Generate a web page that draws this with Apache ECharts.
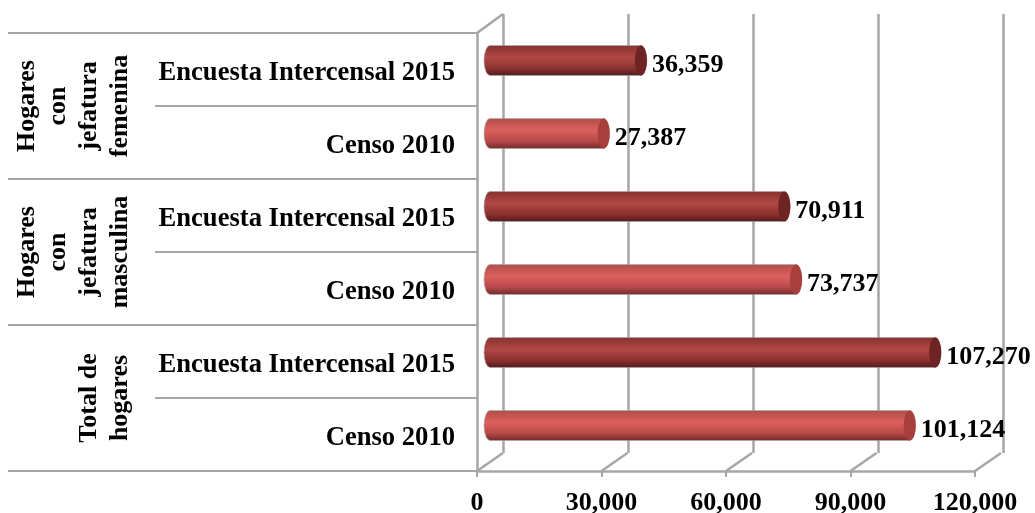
<!DOCTYPE html>
<html>
<head>
<meta charset="utf-8">
<script src="https://cdn.jsdelivr.net/npm/echarts@6/dist/echarts.min.js"></script>
<style>
html,body{margin:0;padding:0;background:#fff}
#main{width:1035px;height:513px}
</style>
</head>
<body>
<div id="main"></div>
<script>
var categorias = ['Censo 2010','Encuesta Intercensal 2015','Censo 2010','Encuesta Intercensal 2015','Censo 2010','Encuesta Intercensal 2015'];
var grupos = ['Total de\nhogares','Hogares\ncon\njefatura\nmasculina','Hogares\ncon\njefatura\nfemenina'];
var valores = [101124,107270,73737,70911,27387,36359];
var ticks = [0,30000,60000,90000,120000];

var FONT = '"Liberation Serif","Times New Roman",serif';
var GRIS = '#a6a6a6';
var fmt = function(v){ return v.toLocaleString('en-US'); };

// degradados del cilindro: claro para censo, oscuro para encuesta
function cuerpo(i){
	var stops = i % 2 === 0
		? [[0,'#b04d4a'],[0.4,'#dc605c'],[0.75,'#b8494a'],[1,'#6e2a28']]
		: [[0,'#86302e'],[0.4,'#b04845'],[0.75,'#8c3230'],[1,'#4f1a19']];
	return new echarts.graphic.LinearGradient(0,0,0,1,stops.map(function(s){return {offset:s[0],color:s[1]};}));
}

function drawBarra(params, api){
	var i = params.dataIndex;
	var fin = api.coord([api.value(0), api.value(1)]);
	var ini = api.coord([0, api.value(1)]);
	var alto = api.size([0,1])[1] * 0.41;
	var rx = 6, top = fin[1]-alto/2, izq = ini[0]-rx;
	var d = 'M'+izq+' '+(top+alto/2)
		+'A'+rx+' '+(alto/2)+' 0 0 1 '+(izq+rx)+' '+top
		+'L'+fin[0]+' '+top
		+'A'+rx+' '+(alto/2)+' 0 0 1 '+fin[0]+' '+(top+alto)
		+'L'+(izq+rx)+' '+(top+alto)
		+'A'+rx+' '+(alto/2)+' 0 0 1 '+izq+' '+(top+alto/2)+'Z';
	return {type:'group',children:[
		{type:'path',shape:{pathData:d},style:{fill:cuerpo(i),stroke:'rgba(170,170,170,0.6)',lineWidth:1}},
		{type:'ellipse',shape:{cx:fin[0],cy:fin[1],rx:rx,ry:alto/2},style:{fill:i%2===0?'#a83f3c':'#6e2422'}},
		{type:'text',x:fin[0]+6+rx-1,y:fin[1]+5,style:{text:fmt(api.value(0)),font:'bold 26px '+FONT,fill:'#000',textAlign:'left',textVerticalAlign:'middle'}}
	]};
}

// diagonales del piso y de la esquina superior
function drawDiagonal(params, api){
	var cs = params.coordSys;
	var p = api.coord([api.value(0),0]);
	var y0 = cs.y+cs.height;
	var lineas = [{type:'line',shape:{x1:p[0],y1:y0,x2:p[0]+26,y2:y0-18},style:{stroke:GRIS,lineWidth:2.5}}];
	if(api.value(0)===0){
		lineas.push({type:'line',shape:{x1:p[0],y1:cs.y,x2:p[0]+26,y2:cs.y-19},style:{stroke:GRIS,lineWidth:2.5}});
	}
	return {type:'group',children:lineas};
}

var chart = echarts.init(document.querySelector('#main'));
var option = {
	animation:false,
	backgroundColor:'#fff',
	textStyle:{fontFamily:FONT},
	grid:[
		{left:477,top:33,width:498,height:438,outerBoundsMode:'none'},
		{left:503,top:14,width:500,height:439,outerBoundsMode:'none'},
		{left:490,top:24,width:498,height:438,outerBoundsMode:'none'},
		{left:8,top:33,width:469,height:438,outerBoundsMode:'none'},
		// solo para las etiquetas de categoria, un poco mas abajo que las marcas
		{left:477,top:36.5,width:498,height:438,outerBoundsMode:'none'}
	],
	xAxis:[
		{gridIndex:0,type:'value',min:0,max:120000,interval:30000,
			axisLine:{show:true,lineStyle:{color:GRIS,width:2.5}},
			axisTick:{show:true,length:6,lineStyle:{color:GRIS,width:2}},
			splitLine:{show:false},
			axisLabel:{margin:19,fontFamily:FONT,fontWeight:'bold',fontSize:26,color:'#000',formatter:fmt}},
		{gridIndex:1,type:'value',min:0,max:120000,interval:30000,
			axisLine:{show:false},axisTick:{show:false},axisLabel:{show:false},
			splitLine:{show:true,lineStyle:{color:GRIS,width:2.5}}},
		{gridIndex:2,type:'value',min:0,max:120000,show:false,splitLine:{show:false}},
		{gridIndex:3,type:'value',show:false,splitLine:{show:false}},
		{gridIndex:4,type:'value',show:false,splitLine:{show:false}}
	],
	yAxis:[
		{gridIndex:0,type:'category',data:categorias,
			axisLine:{show:true,lineStyle:{color:GRIS,width:2.5}},
			axisTick:{show:true,length:322,lineStyle:{color:GRIS,width:2}},
			axisLabel:{show:false}},
		{gridIndex:1,type:'category',data:categorias,show:false},
		{gridIndex:2,type:'category',data:categorias,show:false},
		{gridIndex:3,type:'category',data:grupos,
			axisLine:{show:false},axisTick:{show:false},
			splitLine:{show:true,lineStyle:{color:GRIS,width:2}},
			axisLabel:{interval:0,rotate:90,margin:-128,fontFamily:FONT,fontWeight:'bold',fontSize:26,lineHeight:31,color:'#000',align:'center'}},
		{gridIndex:4,type:'category',data:categorias,
			axisLine:{show:false},axisTick:{show:false},
			axisLabel:{interval:0,margin:22,fontFamily:FONT,fontWeight:'bold',fontSize:26.6,color:'#000'}}
	],
	series:[
		{type:'custom',xAxisIndex:0,yAxisIndex:0,silent:true,z:1,clip:false,renderItem:drawDiagonal,
			data:ticks.map(function(t){return [t];})},
		{type:'custom',xAxisIndex:2,yAxisIndex:2,silent:true,z:5,clip:false,renderItem:drawBarra,
			encode:{x:0,y:1},
			data:valores.map(function(v,i){return [v,i];})}
	]
};
chart.setOption(option);
</script>
</body>
</html>
